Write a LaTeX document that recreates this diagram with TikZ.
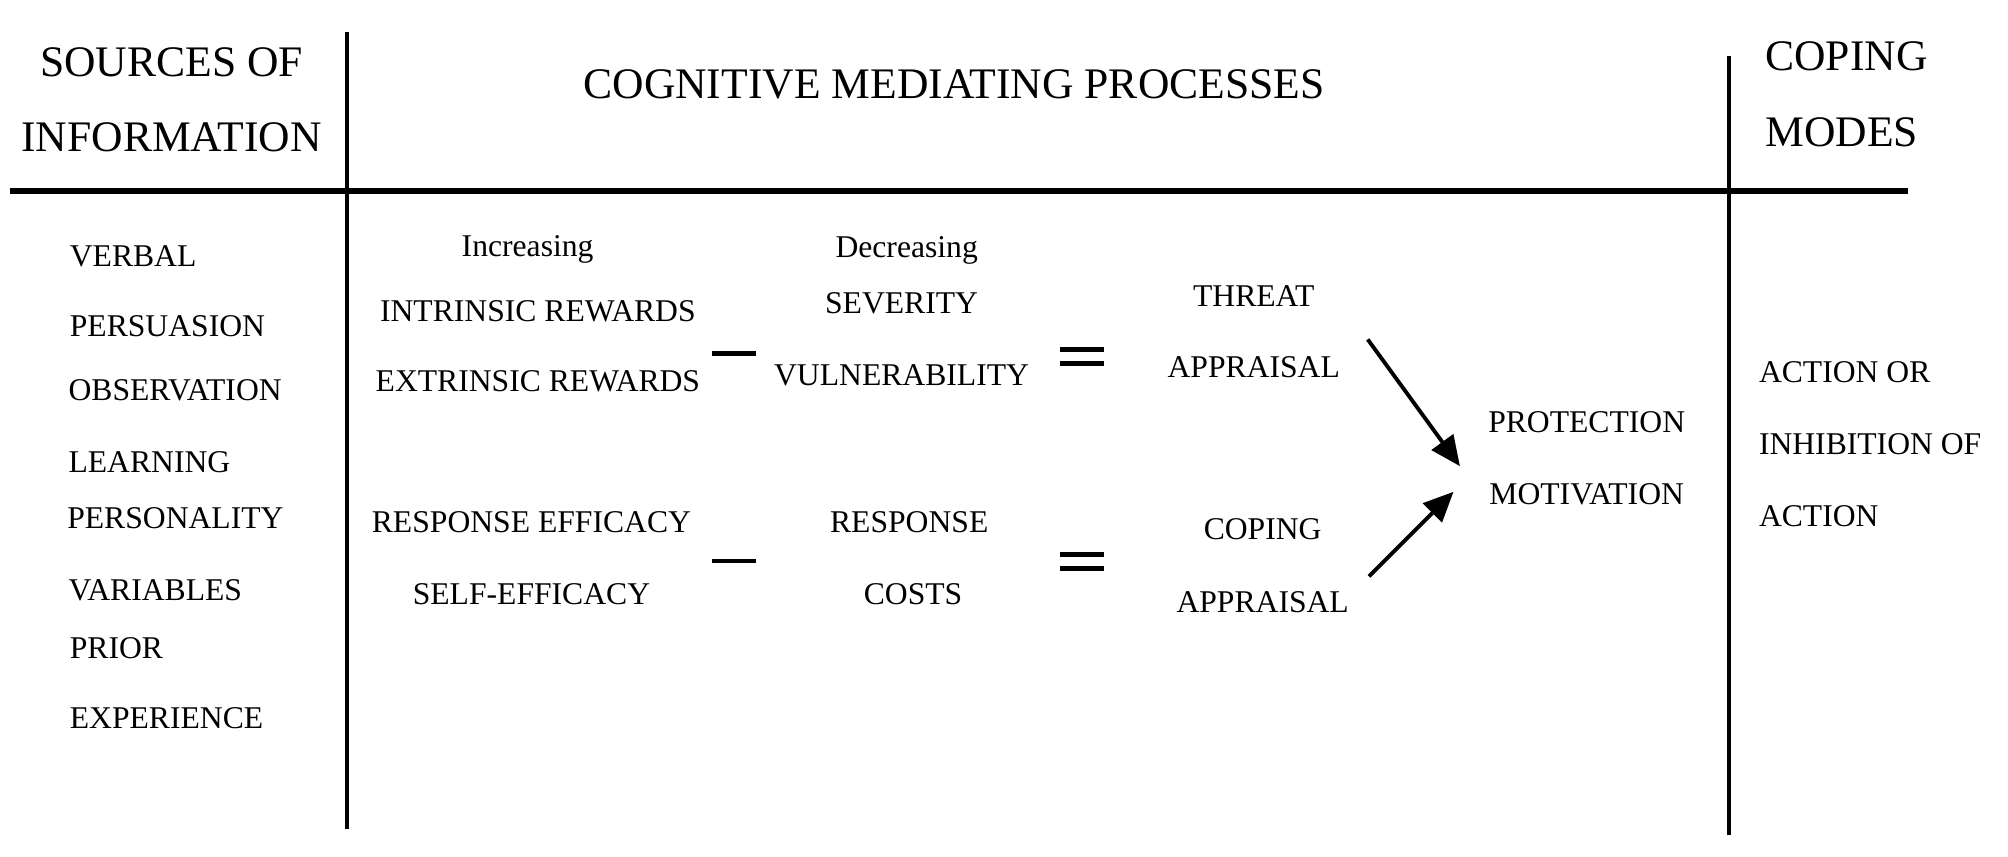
\documentclass[tikz,border=0pt]{standalone}
\usepackage{fontspec}
\setmainfont{Liberation Serif}
\usetikzlibrary{arrows.meta}
\begin{document}
\begin{tikzpicture}[x=0.012806cm, y=-0.012806cm,
  hd/.style={inner sep=0, font=\fontsize{12.4}{14}\selectfont},
  tx/.style={inner sep=0, font=\fontsize{9}{10}\selectfont},
  rulev/.style={line width=1.1pt},
  ruleh/.style={line width=1.7pt},
  opline/.style={line width=1.3pt},
  arr/.style={line width=1.1pt, -{Triangle[length=8.5pt,width=7.5pt]}}]
\useasboundingbox (0,0) rectangle (1568,669);
% frame lines
\draw[ruleh] (8,149) -- (1490,149);
\draw[rulev] (271,25) -- (271,647);
\draw[rulev] (1350,44) -- (1350,652);
% headers
\node[hd] (src1) at (134,49) {SOURCES OF};
\node[hd] (src2) at (134,107) {INFORMATION};
\node[hd] (cmp) at (745,66) {COGNITIVE MEDIATING PROCESSES};
\node[hd, anchor=west] (cop1) at (1378,44) {COPING};
\node[hd, anchor=west] (cop2) at (1378,103) {MODES};
% sources
\node[tx, anchor=west] (s1) at (54,200) {VERBAL};
\node[tx, anchor=west] (s2) at (54,255) {PERSUASION};
\node[tx, anchor=west] (s3) at (53,305) {OBSERVATION};
\node[tx, anchor=west] (s4) at (53,361) {LEARNING};
\node[tx, anchor=west] (s5) at (52,405) {PERSONALITY};
\node[tx, anchor=west] (s6) at (53,461) {VARIABLES};
\node[tx, anchor=west] (s7) at (54,506) {PRIOR};
\node[tx, anchor=west] (s8) at (54,561) {EXPERIENCE};
% column 2
\node[tx, anchor=base] (inc) at (412,200) {Increasing};
\node[tx] (ir) at (420,243) {INTRINSIC REWARDS};
\node[tx] (er) at (420,298) {EXTRINSIC REWARDS};
\node[tx] (re) at (415,408) {RESPONSE EFFICACY};
\node[tx] (se) at (415,464) {SELF-EFFICACY};
% column 3
\node[tx, anchor=base] (dec) at (708,201) {Decreasing};
\node[tx] (sev) at (704,237) {SEVERITY};
\node[tx] (vul) at (704,293) {VULNERABILITY};
\node[tx] (rsp) at (710,408) {RESPONSE};
\node[tx] (cst) at (713,464) {COSTS};
% operators
\coordinate (m1a) at (556,276); \coordinate (m1b) at (590,276);
\coordinate (m2a) at (556,438); \coordinate (m2b) at (590,438);
\draw[opline] (m1a) -- (m1b);
\draw[opline] (m2a) -- (m2b);
\coordinate (e1a) at (828,273); \coordinate (e1b) at (862,273);
\coordinate (e1c) at (828,284); \coordinate (e1d) at (862,284);
\coordinate (e2a) at (828,433); \coordinate (e2b) at (862,433);
\coordinate (e2c) at (828,444); \coordinate (e2d) at (862,444);
\draw[opline] (e1a) -- (e1b) (e1c) -- (e1d);
\draw[opline] (e2a) -- (e2b) (e2c) -- (e2d);
% appraisals
\node[tx] (thr) at (979,231) {THREAT};
\node[tx] (tap) at (979,287) {APPRAISAL};
\node[tx] (cpg) at (986,413) {COPING};
\node[tx] (cap) at (986,470) {APPRAISAL};
% protection motivation
\node[tx] (prot) at (1239,330) {PROTECTION};
\node[tx] (motv) at (1239,386) {MOTIVATION};
% arrows
\coordinate (a1s) at (1068,265);
\coordinate (a1e) at (1140,364);
\coordinate (a2s) at (1069,450);
\coordinate (a2e) at (1135,384);
\draw[arr] (a1s) -- (a1e);
\draw[arr] (a2s) -- (a2e);
% coping modes
\node[tx, anchor=west] (c1) at (1373,291) {ACTION OR};
\node[tx, anchor=west] (c2) at (1373,347) {INHIBITION OF};
\node[tx, anchor=west] (c3) at (1373,403) {ACTION};
\end{tikzpicture}
\end{document}
